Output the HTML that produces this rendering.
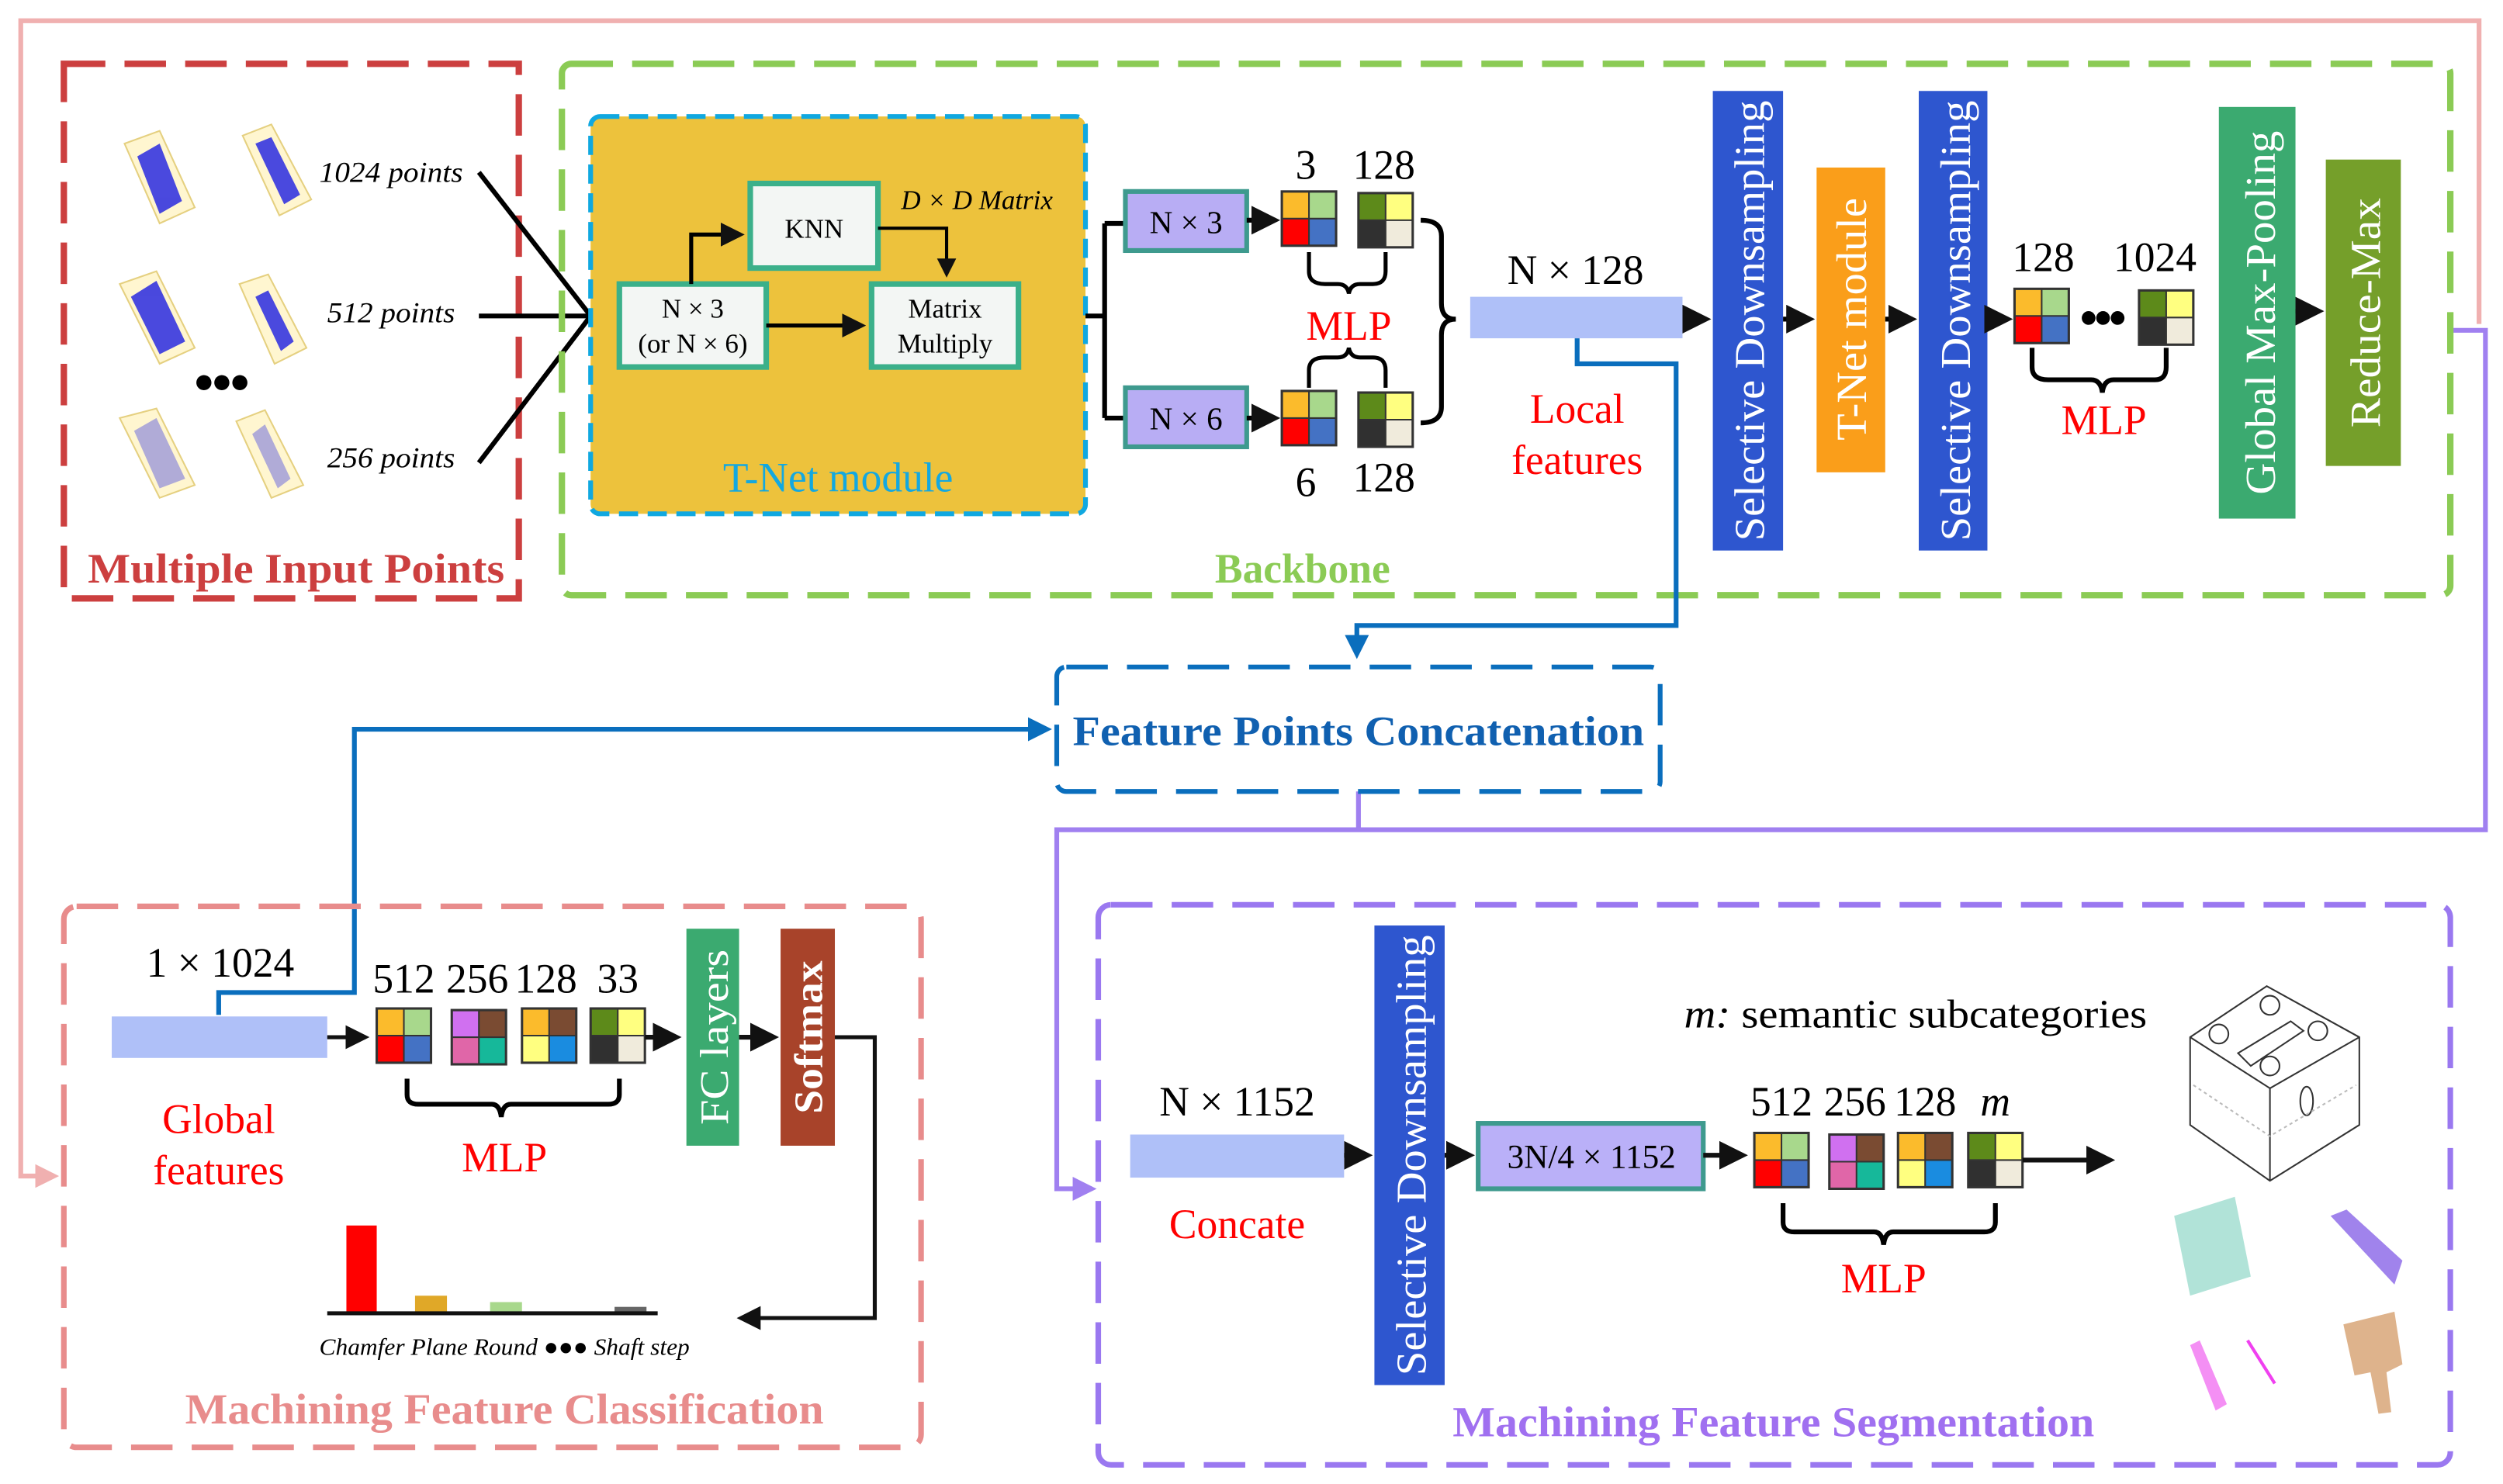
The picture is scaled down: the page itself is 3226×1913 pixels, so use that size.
<!DOCTYPE html>
<html><head><meta charset="utf-8"><style>html,body{margin:0;padding:0;background:#fff}svg{display:block}</style></head>
<body>
<svg width="3226" height="1913" viewBox="0 0 1568 930" preserveAspectRatio="none" xmlns="http://www.w3.org/2000/svg" font-family="'Liberation Serif', serif">
<defs>
<marker id="ah" markerWidth="6" markerHeight="6" refX="5" refY="3" orient="auto" markerUnits="strokeWidth"><path d="M0,0 L6,3 L0,6 z" fill="#111"/></marker>
<marker id="ahb" markerWidth="5" markerHeight="5" refX="4" refY="2.5" orient="auto" markerUnits="strokeWidth"><path d="M0,0 L5,2.5 L0,5 z" fill="#0A6EBD"/></marker>
<marker id="ahp" markerWidth="5" markerHeight="5" refX="4" refY="2.5" orient="auto" markerUnits="strokeWidth"><path d="M0,0 L5,2.5 L0,5 z" fill="#F0B0B0"/></marker>
<marker id="ahv" markerWidth="5" markerHeight="5" refX="4" refY="2.5" orient="auto" markerUnits="strokeWidth"><path d="M0,0 L5,2.5 L0,5 z" fill="#A080F0"/></marker>
<g id="bA"><rect x="0" y="0" width="17" height="17" fill="#FBBB2C"/><rect x="17" y="0" width="17" height="17" fill="#A8D88C"/><rect x="0" y="17" width="17" height="17" fill="#FF0000"/><rect x="17" y="17" width="17" height="17" fill="#4472C4"/><rect width="34" height="34" fill="none" stroke="#333" stroke-width="1.5"/><path d="M17,0V34M0,17H34" stroke="#333" stroke-width="1"/></g>
<g id="bB"><rect x="0" y="0" width="17" height="17" fill="#5D8A1A"/><rect x="17" y="0" width="17" height="17" fill="#FFFF80"/><rect x="0" y="17" width="17" height="17" fill="#303030"/><rect x="17" y="17" width="17" height="17" fill="#F0EBDC"/><rect width="34" height="34" fill="none" stroke="#333" stroke-width="1.5"/><path d="M17,0V34M0,17H34" stroke="#333" stroke-width="1"/></g>
<g id="bC"><rect x="0" y="0" width="17" height="17" fill="#D070F0"/><rect x="17" y="0" width="17" height="17" fill="#7A4B32"/><rect x="0" y="17" width="17" height="17" fill="#E066A8"/><rect x="17" y="17" width="17" height="17" fill="#16B89A"/><rect width="34" height="34" fill="none" stroke="#333" stroke-width="1.5"/><path d="M17,0V34M0,17H34" stroke="#333" stroke-width="1"/></g>
<g id="bD"><rect x="0" y="0" width="17" height="17" fill="#FBBB2C"/><rect x="17" y="0" width="17" height="17" fill="#7A4B32"/><rect x="0" y="17" width="17" height="17" fill="#FFFF80"/><rect x="17" y="17" width="17" height="17" fill="#1A8CE0"/><rect width="34" height="34" fill="none" stroke="#333" stroke-width="1.5"/><path d="M17,0V34M0,17H34" stroke="#333" stroke-width="1"/></g>
</defs>

<path d="M1553,203 V13 H13 V737 H34" fill="none" stroke="#F0B0B0" stroke-width="3" marker-end="url(#ahp)"/>
<path d="M1535,207 H1557 V520 H662 V745 H684" fill="none" stroke="#A080F0" stroke-width="3" marker-end="url(#ahv)"/>
<path d="M851,496 V520" stroke="#A080F0" stroke-width="3"/>

<rect x="40" y="40" width="285" height="335" fill="none" stroke="#CC3F3F" stroke-width="4" stroke-dasharray="26,12"/>
<text x="55" y="365" font-size="26" font-weight="bold" fill="#CC3F3F" textLength="261" lengthAdjust="spacingAndGlyphs">Multiple Input Points</text>
<g stroke="#E5D080" stroke-width="1" fill="#FFF6D0">
<polygon points="78,90 100,82 122,130 100,140"/><polygon points="152,85 170,78 195,125 175,135"/>
<polygon points="75,178 98,170 122,218 100,228"/><polygon points="150,178 168,172 192,218 172,228"/>
<polygon points="75,262 98,256 122,304 100,312"/><polygon points="148,264 166,257 190,304 170,312"/>
</g>
<g fill="#2A2AE0" opacity="0.85">
<polygon points="86,98 100,90 114,126 100,134"/><polygon points="160,90 170,86 188,122 178,128"/>
<polygon points="82,186 98,176 116,214 100,222"/><polygon points="160,186 168,182 184,214 176,220"/>
</g>
<g fill="#5050E0" opacity="0.45"><polygon points="84,270 98,262 116,300 100,306"/><polygon points="158,272 166,266 182,300 174,306"/></g>
<text x="138" y="246" font-size="22" text-anchor="middle" font-weight="bold" letter-spacing="-2">●●●</text>
<g font-size="18" font-style="italic">
<text x="200" y="114" textLength="90" lengthAdjust="spacingAndGlyphs">1024 points</text><text x="205" y="202" textLength="80" lengthAdjust="spacingAndGlyphs">512 points</text><text x="205" y="293" textLength="80" lengthAdjust="spacingAndGlyphs">256 points</text></g>
<path d="M300,108 L370,198 M300,198 H370 M300,290 L370,198" stroke="#000" stroke-width="3" fill="none"/>

<rect x="352" y="40" width="1183" height="333" rx="6" fill="none" stroke="#8BCB55" stroke-width="4" stroke-dasharray="26,12"/>
<text x="816" y="365" font-size="26" font-weight="bold" fill="#8BCB55" text-anchor="middle">Backbone</text>

<rect x="370" y="73" width="310" height="249" rx="6" fill="#EDC23C" stroke="#10A8E0" stroke-width="3" stroke-dasharray="12,6"/>
<text x="525" y="308" font-size="26" fill="#13A8E0" text-anchor="middle">T-Net module</text>
<rect x="470" y="115" width="80" height="53" fill="#F3F6F4" stroke="#3BB08A" stroke-width="3.5"/>
<text x="510" y="149" font-size="17" text-anchor="middle">KNN</text>
<rect x="388" y="178" width="92" height="52" fill="#F3F6F4" stroke="#3BB08A" stroke-width="3.5"/>
<text x="434" y="199" font-size="17" text-anchor="middle">N × 3</text><text x="434" y="221" font-size="17" text-anchor="middle">(or N × 6)</text>
<rect x="546" y="178" width="92" height="52" fill="#F3F6F4" stroke="#3BB08A" stroke-width="3.5"/>
<text x="592" y="199" font-size="17" text-anchor="middle">Matrix</text><text x="592" y="221" font-size="17" text-anchor="middle">Multiply</text>
<text x="612" y="131" font-size="17" font-style="italic" text-anchor="middle">D × D Matrix</text>
<path d="M433,178 V147 H464" stroke="#000" stroke-width="2.5" fill="none" marker-end="url(#ah)"/>
<path d="M550,143 H593 V172" stroke="#000" stroke-width="2" fill="none" marker-end="url(#ah)"/>
<path d="M480,204 H540" stroke="#000" stroke-width="2.5" fill="none" marker-end="url(#ah)"/>

<path d="M680,198 H692 M692,140 V262 M692,140 H705 M692,262 H705" stroke="#000" stroke-width="3" fill="none"/>
<rect x="705" y="120" width="76" height="37" fill="#B8ADF4" stroke="#3E9A8E" stroke-width="3"/>
<text x="743" y="146" font-size="20" text-anchor="middle">N × 3</text>
<rect x="705" y="243" width="76" height="37" fill="#B8ADF4" stroke="#3E9A8E" stroke-width="3"/>
<text x="743" y="269" font-size="20" text-anchor="middle">N × 6</text>
<path d="M781,138 H799" stroke="#000" stroke-width="3" marker-end="url(#ah)"/>
<path d="M781,262 H799" stroke="#000" stroke-width="3" marker-end="url(#ah)"/>
<use href="#bA" x="803" y="120"/><use href="#bB" x="851" y="121"/>
<use href="#bA" x="803" y="245"/><use href="#bB" x="851" y="246"/>
<g font-size="26" text-anchor="middle"><text x="818" y="112">3</text><text x="867" y="112">128</text><text x="818" y="311">6</text><text x="867" y="308">128</text></g>
<path d="M820,158 V170 Q820,178 830,178 H838 Q844,178 845,184 Q846,178 852,178 H860 Q868,178 868,170 V158" fill="none" stroke="#000" stroke-width="2.5"/>
<path d="M820,243 V232 Q820,224 830,224 H838 Q844,224 845,218 Q846,224 852,224 H860 Q868,224 868,232 V243" fill="none" stroke="#000" stroke-width="2.5"/>
<text x="845" y="213" font-size="26" fill="#F00" text-anchor="middle">MLP</text>
<path d="M890,138 Q903,138 903,148 V190 Q903,200 912,200 Q903,200 903,210 V255 Q903,265 890,265" fill="none" stroke="#000" stroke-width="3"/>

<text x="987" y="178" font-size="26" text-anchor="middle">N × 128</text>
<rect x="921" y="186" width="133" height="26" fill="#AFC0F8"/>
<text x="988" y="265" font-size="26" fill="#F00" text-anchor="middle">Local</text>
<text x="988" y="297" font-size="26" fill="#F00" text-anchor="middle">features</text>
<path d="M1054,200 H1069" stroke="#000" stroke-width="3" marker-end="url(#ah)"/>

<rect x="1073" y="57" width="44" height="288" fill="#2E56CF"/>
<text transform="translate(1105,201) rotate(-90)" font-size="27" fill="#fff" text-anchor="middle" textLength="276" lengthAdjust="spacingAndGlyphs">Selective Downsampling</text>
<path d="M1117,200 H1134" stroke="#000" stroke-width="3" marker-end="url(#ah)"/>
<rect x="1138" y="105" width="43" height="191" fill="#FA9E1A"/>
<text transform="translate(1169,200) rotate(-90)" font-size="27" fill="#fff" text-anchor="middle" textLength="152" lengthAdjust="spacingAndGlyphs">T-Net module</text>
<path d="M1181,200 H1198" stroke="#000" stroke-width="3" marker-end="url(#ah)"/>
<rect x="1202" y="57" width="43" height="288" fill="#2E56CF"/>
<text transform="translate(1234,201) rotate(-90)" font-size="27" fill="#fff" text-anchor="middle" textLength="276" lengthAdjust="spacingAndGlyphs">Selective Downsampling</text>
<path d="M1245,200 H1258" stroke="#000" stroke-width="3" marker-end="url(#ah)"/>
<use href="#bA" x="1262" y="181"/>
<text x="1316" y="205" font-size="20" text-anchor="middle" letter-spacing="-3">●●●</text>
<use href="#bB" x="1340" y="182"/>
<g font-size="26" text-anchor="middle"><text x="1280" y="170">128</text><text x="1350" y="170">1024</text></g>
<path d="M1273,218 V230 Q1273,238 1283,238 H1310 Q1316,238 1317,246 Q1318,238 1324,238 H1350 Q1357,238 1357,230 V218" fill="none" stroke="#000" stroke-width="3"/>
<text x="1318" y="272" font-size="26" fill="#F00" text-anchor="middle">MLP</text>
<rect x="1390" y="67" width="48" height="258" fill="#3BAA70"/>
<text transform="translate(1425,196) rotate(-90)" font-size="27" fill="#fff" text-anchor="middle" textLength="228" lengthAdjust="spacingAndGlyphs">Global Max-Pooling</text>
<path d="M1438,195 H1453" stroke="#000" stroke-width="3" marker-end="url(#ah)"/>
<rect x="1457" y="100" width="47" height="192" fill="#759F2A"/>
<text transform="translate(1491,196) rotate(-90)" font-size="27" fill="#fff" text-anchor="middle" textLength="144" lengthAdjust="spacingAndGlyphs">Reduce-Max</text>

<path d="M988,212 V228 H1050 V392 H850 V410" fill="none" stroke="#0A6EBD" stroke-width="3" marker-end="url(#ahb)"/>
<path d="M137,636 V622 H222 V457 H656" fill="none" stroke="#0A6EBD" stroke-width="3" marker-end="url(#ahb)"/>
<rect x="662" y="418" width="378" height="78" rx="6" fill="none" stroke="#0A6EBD" stroke-width="3" stroke-dasharray="26,12"/>
<text x="672" y="467" font-size="26" font-weight="bold" fill="#1060B0" textLength="358" lengthAdjust="spacingAndGlyphs">Feature Points Concatenation</text>

<rect x="40" y="568" width="537" height="339" rx="8" fill="none" stroke="#E88C8C" stroke-width="3.5" stroke-dasharray="26,12"/>
<text x="116" y="892" font-size="27" font-weight="bold" fill="#E88C8C" textLength="400" lengthAdjust="spacingAndGlyphs">Machining Feature Classification</text>
<text x="138" y="612" font-size="26" text-anchor="middle">1 × 1024</text>
<rect x="70" y="637" width="135" height="26" fill="#AFC0F8"/>
<path d="M205,650 H229" stroke="#111" stroke-width="2.5" marker-end="url(#ah)"/>
<use href="#bA" x="236" y="632"/><use href="#bC" x="283" y="633"/><use href="#bD" x="327" y="632"/><use href="#bB" x="370" y="632"/>
<g font-size="26" text-anchor="middle"><text x="253" y="622">512</text><text x="299" y="622">256</text><text x="342" y="622">128</text><text x="387" y="622">33</text></g>
<path d="M255,676 V686 Q255,692 262,692 H308 Q313,692 314,700 Q315,692 320,692 H381 Q388,692 388,686 V676" fill="none" stroke="#000" stroke-width="3"/>
<text x="316" y="734" font-size="26" fill="#F00" text-anchor="middle">MLP</text>
<text x="137" y="710" font-size="26" fill="#F00" text-anchor="middle">Global</text>
<text x="137" y="742" font-size="26" fill="#F00" text-anchor="middle">features</text>
<path d="M404,650 H424" stroke="#111" stroke-width="3" marker-end="url(#ah)"/>
<rect x="430" y="582" width="33" height="136" fill="#3BAA70"/>
<text transform="translate(456,650) rotate(-90)" font-size="25" fill="#fff" text-anchor="middle" textLength="110" lengthAdjust="spacingAndGlyphs">FC layers</text>
<path d="M463,650 H485" stroke="#111" stroke-width="3" marker-end="url(#ah)"/>
<rect x="489" y="582" width="34" height="136" fill="#A8432A"/>
<text transform="translate(515,650) rotate(-90)" font-size="25" fill="#fff" text-anchor="middle" font-weight="bold" textLength="96" lengthAdjust="spacingAndGlyphs">Softmax</text>
<path d="M523,650 H548 V826 H464" fill="none" stroke="#111" stroke-width="2.5" marker-end="url(#ah)"/>
<rect x="217" y="768" width="19" height="55" fill="#F00"/>
<rect x="260" y="812" width="20" height="11" fill="#E0A828"/>
<rect x="307" y="816" width="20" height="7" fill="#A8D88C"/>
<rect x="385" y="819" width="20" height="4" fill="#666"/>
<path d="M205,823 H412" stroke="#111" stroke-width="2.5"/>
<text x="200" y="849" font-size="15" font-style="italic" textLength="232" lengthAdjust="spacingAndGlyphs">Chamfer Plane  Round <tspan font-style="normal">●●●</tspan> Shaft step</text>

<rect x="688" y="567" width="847" height="351" rx="8" fill="none" stroke="#9A78F0" stroke-width="3.5" stroke-dasharray="26,12"/>
<text x="910" y="900" font-size="27" font-weight="bold" fill="#A070F0" textLength="402" lengthAdjust="spacingAndGlyphs">Machining Feature Segmentation</text>
<text x="775" y="699" font-size="26" text-anchor="middle">N × 1152</text>
<rect x="708" y="711" width="134" height="27" fill="#AFC0F8"/>
<text x="775" y="776" font-size="26" fill="#F00" text-anchor="middle">Concate</text>
<path d="M842,724 H857" stroke="#111" stroke-width="3" marker-end="url(#ah)"/>
<rect x="861" y="580" width="44" height="288" fill="#2E56CF"/>
<text transform="translate(893,724) rotate(-90)" font-size="27" fill="#fff" text-anchor="middle" textLength="276" lengthAdjust="spacingAndGlyphs">Selective Downsampling</text>
<path d="M905,724 H921" stroke="#111" stroke-width="3" marker-end="url(#ah)"/>
<rect x="926" y="704" width="141" height="41" fill="#BAB0F8" stroke="#3E9A8E" stroke-width="3"/>
<text x="997" y="732" font-size="21" text-anchor="middle">3N/4 × 1152</text>
<path d="M1067,724 H1092" stroke="#111" stroke-width="3" marker-end="url(#ah)"/>
<use href="#bA" x="1099" y="710"/><use href="#bC" x="1146" y="711"/><use href="#bD" x="1189" y="710"/><use href="#bB" x="1233" y="710"/>
<g font-size="26" text-anchor="middle"><text x="1116" y="699">512</text><text x="1162" y="699">256</text><text x="1206" y="699">128</text><text x="1250" y="699" font-style="italic">m</text></g>
<path d="M1267,727 H1322" stroke="#111" stroke-width="3" marker-end="url(#ah)"/>
<path d="M1117,754 V766 Q1117,772 1124,772 H1174 Q1179,772 1180,780 Q1181,772 1186,772 H1243 Q1250,772 1250,766 V754" fill="none" stroke="#000" stroke-width="3"/>
<text x="1180" y="810" font-size="26" fill="#F00" text-anchor="middle">MLP</text>
<text x="1055" y="644" font-size="25" textLength="290" lengthAdjust="spacingAndGlyphs"><tspan font-style="italic">m:</tspan> semantic subcategories</text>
<g fill="none" stroke="#333" stroke-width="1">
<polygon points="1372,650 1420,618 1478,650 1478,705 1422,740 1372,705"/>
<path d="M1372,650 L1422,682 L1478,650 M1422,682 V740"/>
<circle cx="1390" cy="648" r="6"/><circle cx="1422" cy="630" r="6"/><circle cx="1452" cy="646" r="6"/><circle cx="1422" cy="668" r="6"/>
<path d="M1402,660 L1435,640 L1443,646 L1410,668 z"/>
<ellipse cx="1445" cy="690" rx="4" ry="9"/>
<path d="M1374,680 L1422,712 L1476,680" stroke="#bbb" stroke-dasharray="2,2"/>
</g>
<polygon points="1362,762 1400,750 1410,800 1372,812" fill="#20B090" opacity="0.35"/>
<polygon points="1460,762 1470,758 1505,790 1500,805" fill="#6030E0" opacity="0.6"/>
<polygon points="1372,843 1378,840 1395,880 1388,884" fill="#F060F0" opacity="0.7"/>
<path d="M1408,840 L1425,867" stroke="#F040F0" stroke-width="2"/>
<polygon points="1468,830 1500,822 1505,855 1495,860 1498,885 1490,886 1485,860 1475,862" fill="#C88040" opacity="0.6"/>
</svg>
</body></html>
